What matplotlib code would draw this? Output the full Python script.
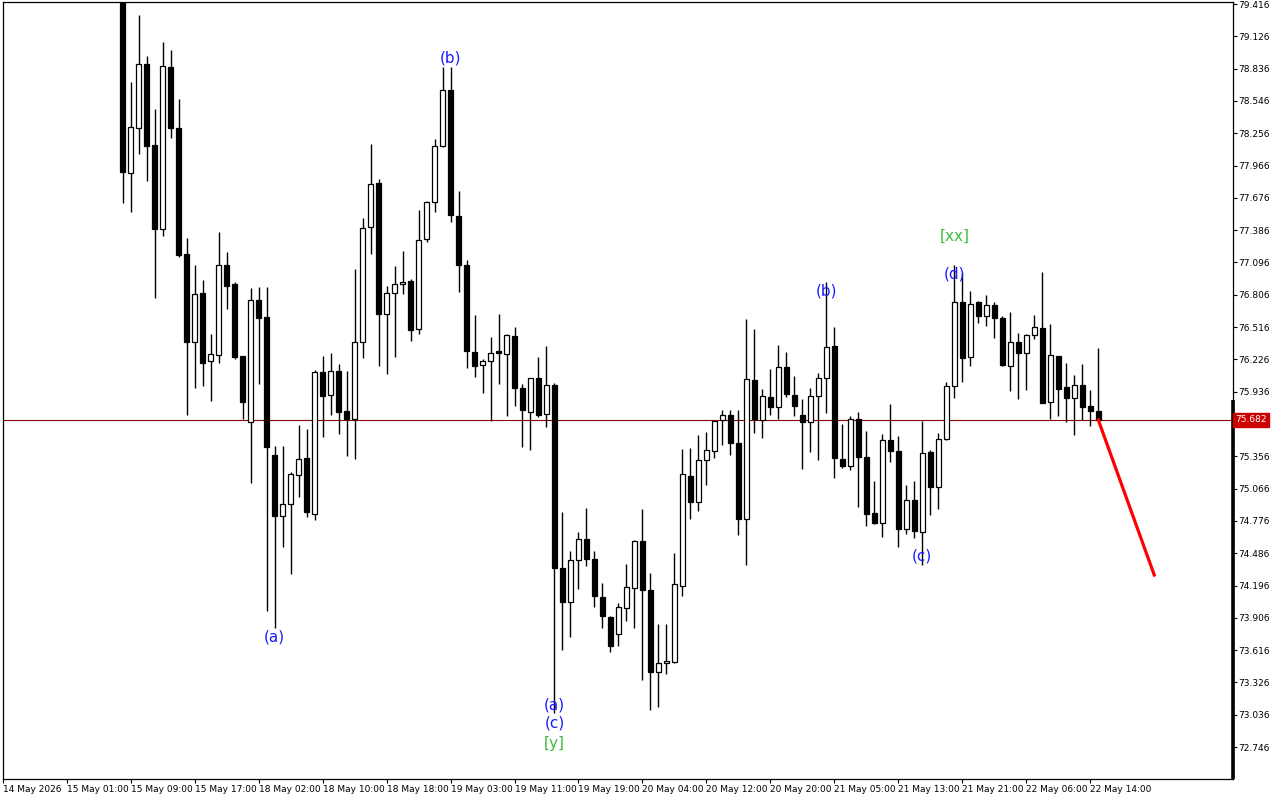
import numpy as np
import matplotlib.pyplot as plt
from matplotlib.transforms import blended_transform_factory

# H1 candles, 15 May 08:00 -> 22 May 15:00
opens = [79.55, 77.896, 78.300, 78.877, 78.150, 77.394, 78.851, 78.303, 77.172, 76.385,
         76.819, 76.209, 76.262, 77.070, 76.900, 76.254, 75.661, 76.756, 76.606, 75.365,
         74.823, 74.925, 75.185, 75.338, 74.840, 76.110, 75.909, 76.119, 75.762, 75.688,
         76.379, 77.412, 77.807, 76.631, 76.819, 76.900, 76.932, 76.496, 77.304, 77.636,
         78.139, 78.641, 77.510, 77.070, 76.289, 76.173, 76.209, 76.298, 76.271, 76.433,
         75.966, 75.751, 76.056, 75.733, 75.993, 74.350, 74.045, 74.422, 74.611, 74.431,
         74.090, 73.910, 73.758, 73.991, 74.171, 74.593, 74.153, 73.417, 73.498, 73.507,
         74.189, 75.176, 74.943, 75.320, 75.401, 75.679, 75.724, 75.472, 74.790, 76.038,
         75.679, 75.885, 75.796, 76.155, 75.903, 75.724, 75.661, 75.894, 76.056, 76.343,
         75.329, 75.266, 75.688, 75.347, 74.844, 74.754, 75.499, 75.401, 74.700, 74.961,
         74.674, 75.392, 75.078, 75.508, 75.984, 76.738, 76.245, 76.738, 76.613, 76.711,
         76.595, 76.164, 76.379, 76.280, 76.442, 76.505, 75.841, 76.254, 75.975, 75.876,
         75.993, 75.805, 75.760]
highs = [79.60, 78.713, 79.317, 78.949, 78.474, 79.075, 79.003, 78.563, 77.315, 77.073,
         76.938, 76.454, 77.369, 77.190, 76.920, 76.256, 76.867, 76.876, 76.876, 75.448,
         75.448, 75.215, 75.637, 75.601, 76.131, 76.256, 76.283, 76.184, 76.122, 77.037,
         77.492, 78.157, 77.842, 76.882, 77.061, 77.196, 76.945, 77.564, 77.645, 78.202,
         78.851, 78.851, 77.735, 77.115, 76.622, 76.227, 76.424, 76.631, 76.450, 76.514,
         76.002, 76.060, 76.245, 76.343, 76.011, 74.853, 74.503, 74.674, 74.889, 74.503,
         74.216, 73.920, 74.036, 74.386, 74.602, 74.880, 74.306, 73.848, 73.848, 74.485,
         75.419, 75.428, 75.544, 75.571, 75.679, 75.769, 75.769, 75.769, 76.586, 76.496,
         75.957, 76.137, 76.352, 76.289, 76.074, 75.867, 75.966, 76.101, 76.918, 76.514,
         75.643, 75.715, 75.751, 75.580, 75.131, 75.553, 75.823, 75.535, 75.096, 75.131,
         75.670, 75.410, 75.562, 76.020, 77.070, 76.999, 76.837, 76.750, 76.801, 76.738,
         76.613, 76.649, 76.460, 76.451, 76.622, 77.008, 76.541, 76.260, 76.191, 76.083,
         76.182, 75.948, 76.325]
lows = [77.627, 77.552, 78.067, 77.830, 76.780, 77.336, 78.216, 77.145, 75.726, 75.972,
        75.990, 75.855, 76.196, 76.681, 76.232, 75.688, 75.119, 76.008, 73.970, 73.812,
        74.544, 74.302, 74.993, 74.814, 74.787, 75.532, 75.729, 75.559, 75.361, 75.334,
        76.236, 77.169, 76.164, 76.092, 76.245, 76.810, 76.388, 76.451, 77.277, 77.552,
        78.130, 77.456, 76.828, 76.146, 76.065, 75.921, 75.670, 76.002, 75.715, 75.805,
        75.437, 75.410, 75.706, 75.616, 73.049, 73.614, 73.731, 74.162, 74.368, 74.000,
        73.812, 73.596, 73.650, 73.875, 73.812, 73.345, 73.076, 73.103, 73.399, 73.500,
        74.099, 74.790, 74.862, 75.096, 75.338, 75.455, 75.365, 74.647, 74.377, 75.562,
        75.517, 75.724, 75.688, 75.885, 75.715, 75.239, 75.392, 75.320, 75.742, 75.158,
        75.248, 75.230, 74.898, 74.727, 74.745, 74.629, 75.302, 74.539, 74.656, 74.620,
        74.377, 74.826, 74.880, 75.500, 75.876, 76.020, 76.164, 76.550, 76.523, 76.415,
        76.170, 75.939, 75.867, 75.948, 76.406, 75.830, 75.688, 75.715, 75.661, 75.544,
        75.679, 75.625, 75.682]
closes = [77.911, 78.309, 78.877, 78.144, 77.394, 78.860, 78.306, 77.160, 76.385, 76.810,
          76.196, 76.271, 77.070, 76.887, 76.250, 75.846, 76.756, 76.600, 75.442, 74.823,
          74.925, 75.194, 75.329, 74.853, 76.110, 75.900, 76.119, 75.756, 75.693, 76.379,
          77.403, 77.798, 76.636, 76.819, 76.900, 76.918, 76.487, 77.295, 77.636, 78.139,
          78.641, 77.519, 77.070, 76.298, 76.164, 76.209, 76.280, 76.280, 76.442, 75.966,
          75.769, 76.056, 75.724, 75.993, 74.350, 74.045, 74.422, 74.611, 74.431, 74.099,
          73.919, 73.650, 74.000, 74.180, 74.593, 74.153, 73.417, 73.498, 73.516, 74.207,
          75.194, 74.943, 75.320, 75.410, 75.670, 75.724, 75.472, 74.790, 76.047, 75.688,
          75.894, 75.796, 76.155, 75.912, 75.805, 75.661, 75.894, 76.056, 76.334, 75.338,
          75.266, 75.688, 75.347, 74.835, 74.754, 75.499, 75.401, 74.700, 74.961, 74.683,
          75.383, 75.078, 75.508, 75.984, 76.738, 76.236, 76.720, 76.613, 76.711, 76.595,
          76.173, 76.379, 76.280, 76.442, 76.514, 75.832, 76.262, 75.957, 75.876, 75.993,
          75.796, 75.760, 75.682]

time_labels = ["14 May 2026", "15 May 01:00", "15 May 09:00", "15 May 17:00", "18 May 02:00",
               "18 May 10:00", "18 May 18:00", "19 May 03:00", "19 May 11:00", "19 May 19:00",
               "20 May 04:00", "20 May 12:00", "20 May 20:00", "21 May 05:00", "21 May 13:00",
               "21 May 21:00", "22 May 06:00", "22 May 14:00"]
time_label_pos = [-15] + list(range(-7, 122, 8))

# wave labels: text, bar index, price, colour
wave_text = ["(a)", "(b)", "(a)", "(c)", "[y]", "(b)", "[xx]", "(d)", "(c)"]
wave_x = [19, 41, 54, 54, 54, 88, 104, 104, 100]
wave_y = [73.734, 78.931, 73.123, 72.962, 72.782, 76.840, 77.333, 76.992, 74.461]
wave_col = ["blue", "blue", "blue", "blue", "green", "blue", "green", "blue", "blue"]

# projected move
forecast_x = [122, 129]
forecast_y = [75.682, 74.290]

price_ticks = np.round(79.416 - 0.29 * np.arange(24), 3)

fig = plt.figure(figsize=(12.8, 8), dpi=100)
ax = fig.add_axes([0.0021, 0.02625, 0.9609, 0.97125])

x = np.arange(len(opens))
o = np.array(opens)
c = np.array(closes)
up = c >= o

ax.vlines(x, lows, highs, color="black", linewidth=1, zorder=2)
body_h = np.maximum(np.abs(c - o), 0.004)
ax.bar(x[up], body_h[up], bottom=o[up], width=0.56, color="white",
       edgecolor="black", linewidth=0.9, zorder=3)
ax.bar(x[~up], body_h[~up], bottom=c[~up], width=0.56, color="black",
       edgecolor="black", linewidth=0.9, zorder=3)

last = closes[-1]
ax.axhline(last, color="#900000", linewidth=0.8, zorder=1)
ax.plot(forecast_x, forecast_y, color="red", linewidth=2.3, zorder=4)

colmap = {"blue": "#1a1aff", "green": "#3dbb3d"}
for t, xi, yi, cl in zip(wave_text, wave_x, wave_y, wave_col):
    ax.text(xi, yi, t, color=colmap[cl], fontsize=11, ha="center", va="center", zorder=5)

ax.set_xlim(-14.95, 138.8)
ax.set_ylim(72.459, 79.434)

ax.set_xticks(time_label_pos)
ax.set_xticklabels(time_labels, ha="left")
ax.tick_params(axis="x", direction="out", length=3, width=0.8, pad=1, labelsize=6.5)
ax.yaxis.tick_right()
ax.set_yticks(price_ticks)
# the label under the price tag is hidden
ylabels = ["" if abs(p - last) < 0.1 else f"{p:.3f}" for p in price_ticks]
ax.set_yticklabels(ylabels)
ax.tick_params(axis="y", direction="out", length=3, width=0.8, pad=1, labelsize=6.5)
for s in ax.spines.values():
    s.set_linewidth(0.9)

# thick part of the right axis
ax.plot([1, 1], [0, 0.488], transform=ax.transAxes, color="black",
        linewidth=2.6, clip_on=False, solid_capstyle="butt")

# current price tag
trans = blended_transform_factory(ax.transAxes, ax.transData)
ax.text(1.0025, last, f"{last:.3f}", transform=trans, color="white", fontsize=6.5,
        ha="left", va="center", zorder=10, clip_on=False,
        bbox=dict(boxstyle="square,pad=0.25", facecolor="#cc0000", edgecolor="#cc0000"))

plt.savefig("out.png", dpi=100)
plt.close()
